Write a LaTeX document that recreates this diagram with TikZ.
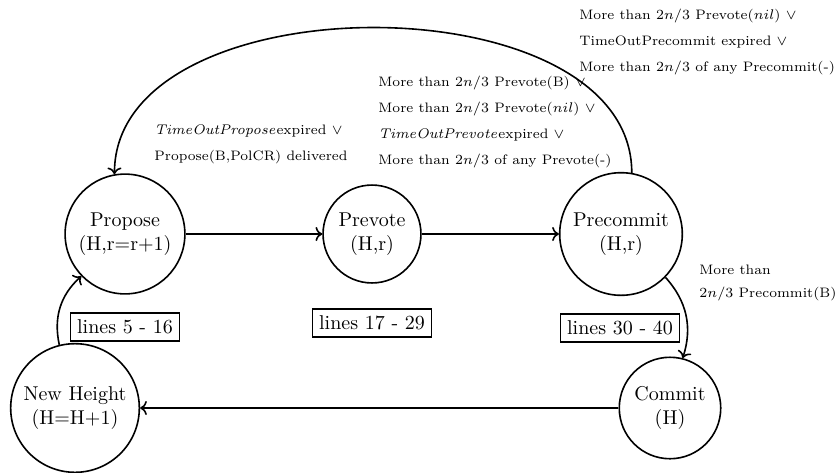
\documentclass[tikz,border=0pt]{standalone}
\usetikzlibrary{arrows.meta}
\tikzset{
  state/.style={circle, draw, thick, align=center, inner sep=3.33pt},
  linesbox/.style={draw, thick, inner sep=3.33pt},
  lbl/.style={font=\fontsize{6.85}{8}\selectfont, align=left, anchor=west, inner sep=0pt},
  trans/.style={->, thick},
}
\begin{document}
\begin{tikzpicture}[x=0.5pt,y=-0.5pt]
\useasboundingbox (0,0) rectangle (836,472);
\node[state] (propose) at (125,234) {Propose\\(H,r=r+1)};
\node[state] (prevote) at (372,234) {Prevote\\(H,r)};
\node[state] (precommit) at (621,234) {Precommit\\(H,r)};
\node[state] (commit) at (670,408) {Commit\\(H)};
\node[state] (newheight) at (75,408) {New Height\\(H=H+1)};

\node[linesbox] (b1) at (125,327) {lines 5 - 16};
\node[linesbox] (b2) at (372,323) {lines 17 - 29};
\node[linesbox] (b3) at (620,328) {lines 30 - 40};

\draw[trans] (propose) -- (prevote);
\draw[trans] (prevote) -- (precommit);
\draw[trans] (commit) -- (newheight);
\draw[trans] (newheight) to[bend left] (propose);
\draw[trans] (precommit) to[bend left] (commit);
\draw[trans] (precommit.80) to[out=90,in=90,looseness=0.96] (propose.100);

\node[lbl] (lprop) at (154,144) {$\mathit{TimeOutPropose}$expired $\vee$\\[5pt]Propose(B,PolCR) delivered};
\node[lbl] (lprev) at (378,122) {More than $2n/3$ Prevote(B) $\vee$\\[5pt]More than $2n/3$ Prevote($nil$) $\vee$\\[5pt]$\mathit{TimeOutPrevote}$expired $\vee$\\[5pt]More than $2n/3$ of any Prevote(-)};
\node[lbl] (lprec) at (579,42) {More than $2n/3$ Prevote($nil$) $\vee$\\[5pt]TimeOutPrecommit expired $\vee$\\[5pt]More than $2n/3$ of any Precommit(-)};
\node[lbl] (lcomm) at (699,283) {More than\\[3.5pt]$2n/3$ Precommit(B)};
\end{tikzpicture}
\end{document}
